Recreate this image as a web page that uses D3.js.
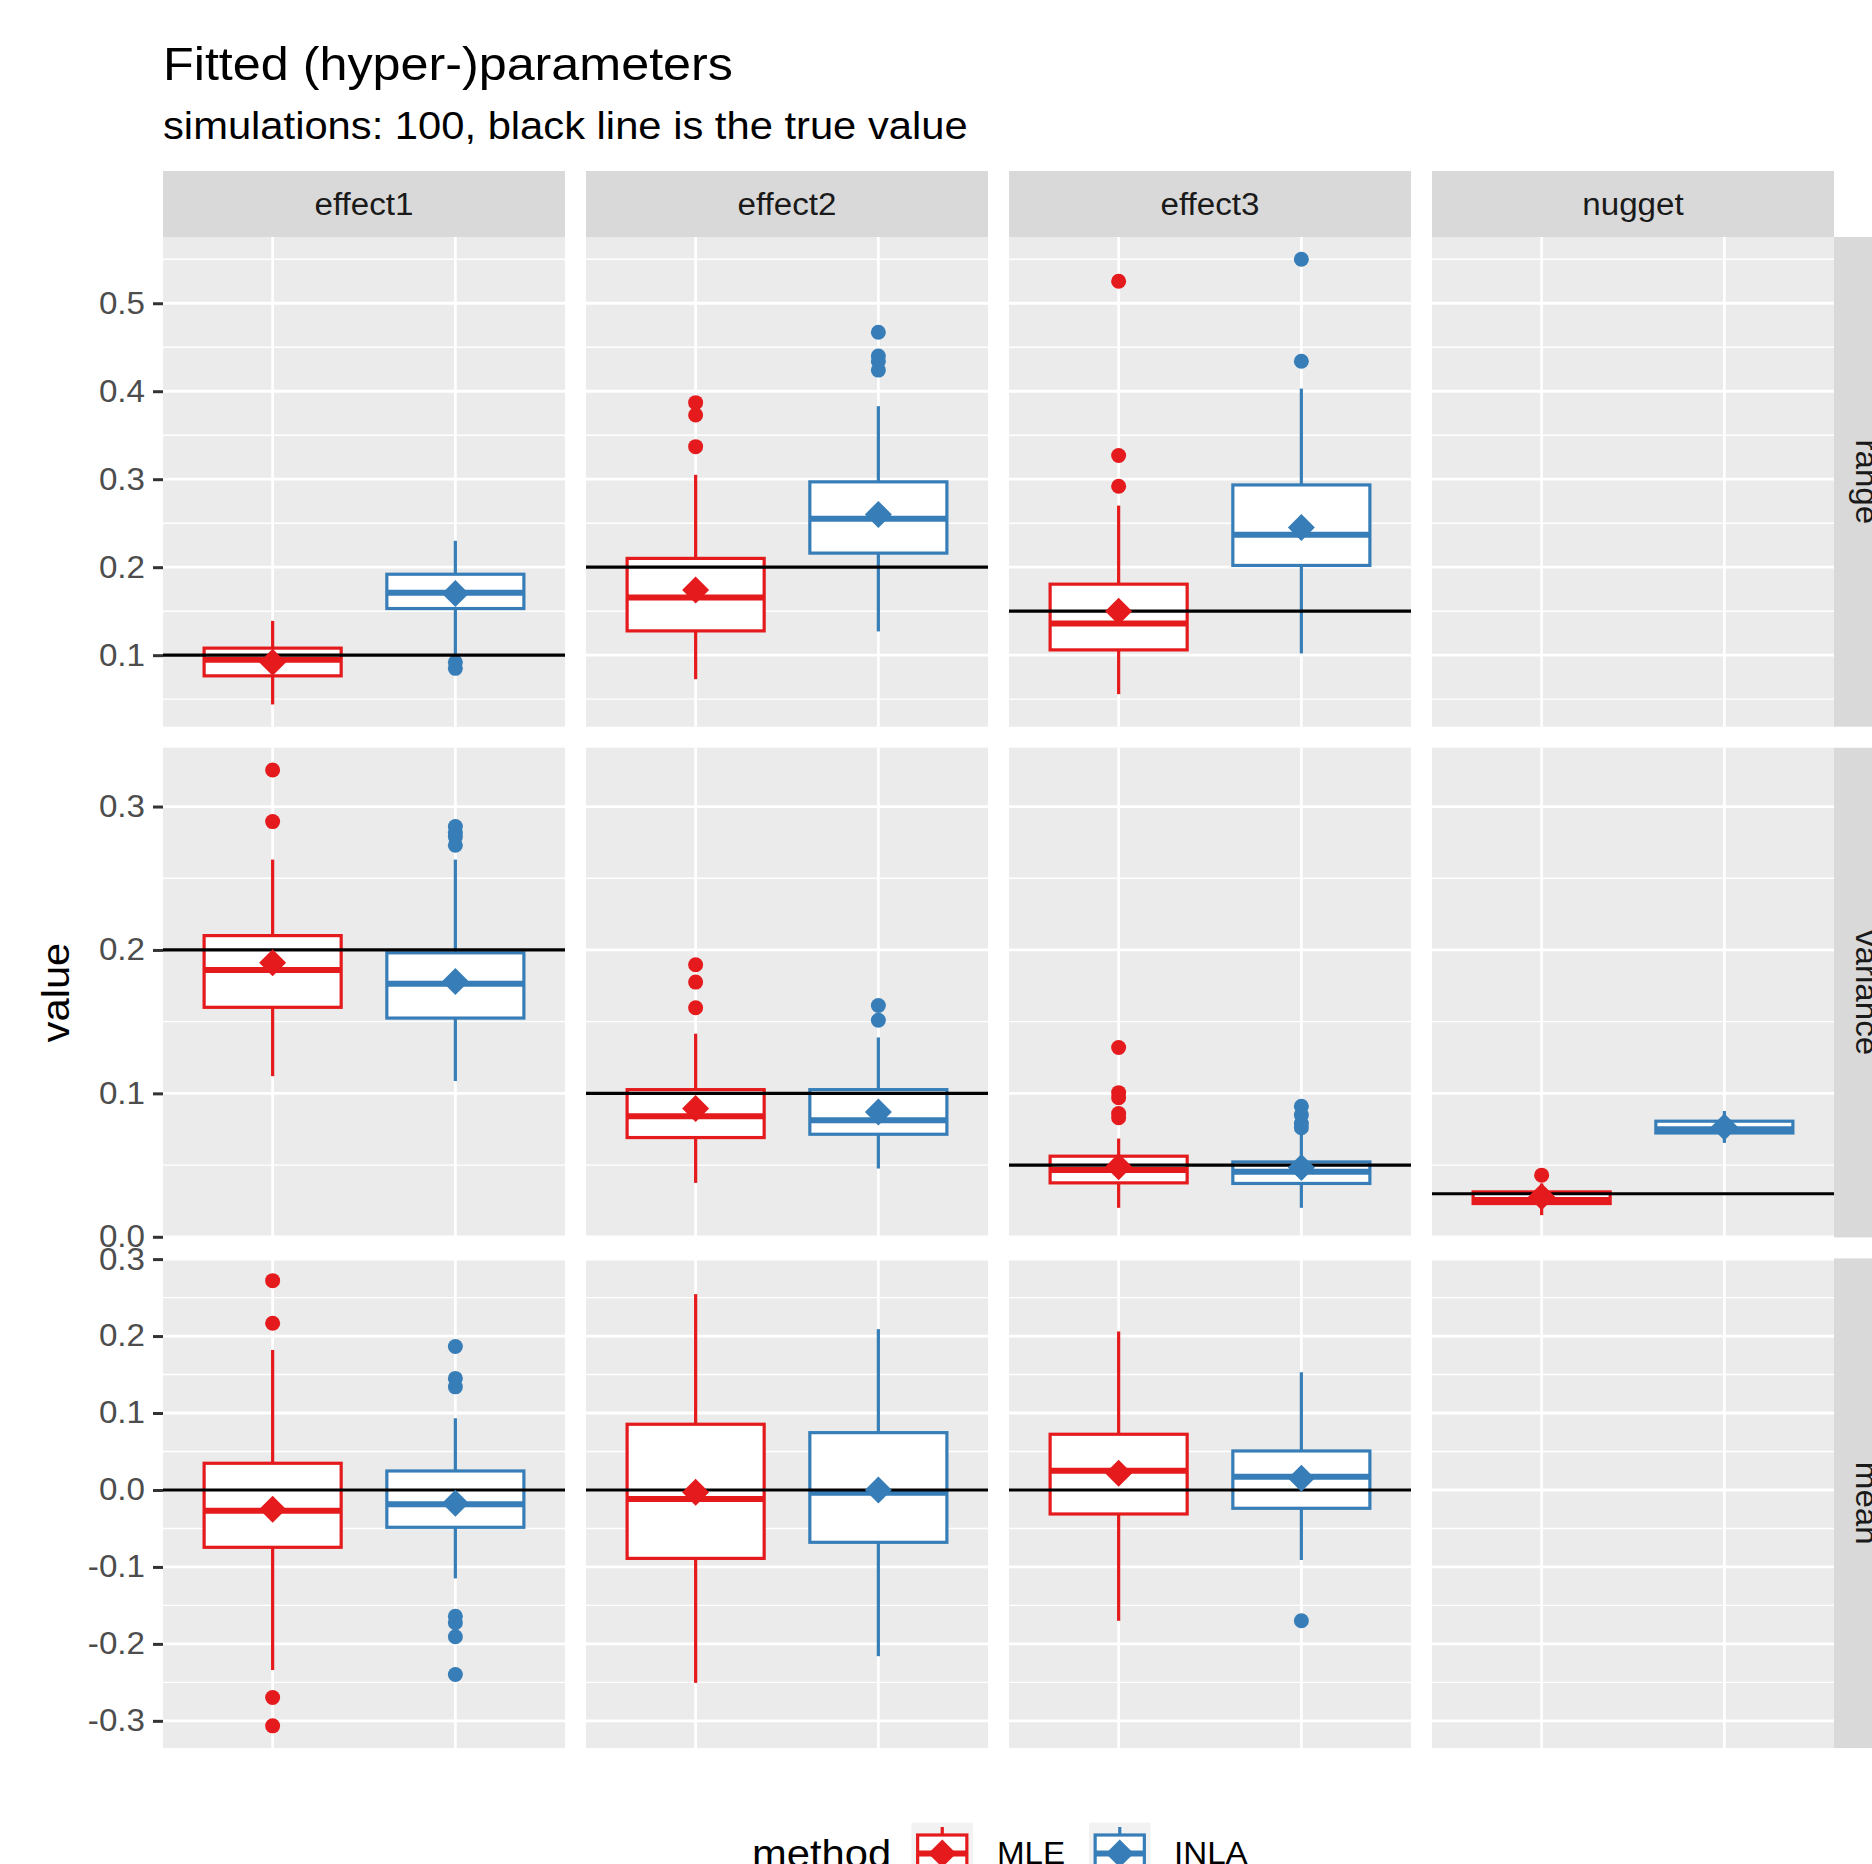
<!DOCTYPE html>
<html>
<head>
<meta charset="utf-8">
<script src="https://cdnjs.cloudflare.com/ajax/libs/d3/7.8.5/d3.min.js"></script>
<style>
  html, body { margin: 0; padding: 0; background: #ffffff; }
  svg { display: block; font-family: "Liberation Sans", Arial, sans-serif; }
</style>
</head>
<body>
<div id="chart"></div>
<script>
// ---------------- DATA ----------------
const facets = ["effect1", "effect2", "effect3", "nugget"];
const params = ["range", "variance", "mean"];
const methods = ["MLE", "INLA"];
const methodColors = ["#E41A1C", "#377EB8"];

// true values (black lines); null = no line
const trueRange = [0.1, 0.2, 0.15, null];
const trueVariance = [0.2, 0.1, 0.05, 0.03];
const trueMean = [0, 0, 0, null];

// box stats per facet: [whiskerLow, q1, median, q3, whiskerHigh, mean]
const rangeMLE = [
  [0.044, 0.0765, 0.0947, 0.108, 0.139, 0.092],
  [0.0727, 0.1276, 0.1655, 0.210, 0.305, 0.174],
  [0.0557, 0.106, 0.136, 0.1807, 0.270, 0.150],
  null
];
const rangeINLA = [
  [0.097, 0.153, 0.171, 0.192, 0.230, 0.170],
  [0.127, 0.216, 0.255, 0.297, 0.383, 0.260],
  [0.102, 0.202, 0.237, 0.2935, 0.403, 0.245],
  null
];
const varianceMLE = [
  [0.112, 0.160, 0.186, 0.210, 0.263, 0.191],
  [0.0376, 0.0692, 0.084, 0.1026, 0.1416, 0.0894],
  [0.0202, 0.0376, 0.0465, 0.0562, 0.0685, 0.0488],
  [0.0151, 0.0232, 0.0256, 0.0313, 0.0372, 0.0279]
];
const varianceINLA = [
  [0.1086, 0.1525, 0.1765, 0.198, 0.263, 0.178],
  [0.0476, 0.0715, 0.0813, 0.1026, 0.139, 0.087],
  [0.0202, 0.0372, 0.0453, 0.0522, 0.071, 0.0483],
  [0.0655, 0.0724, 0.075, 0.0806, 0.0877, 0.0766]
];
const meanMLE = [
  [-0.234, -0.0745, -0.0269, 0.0347, 0.182, -0.025],
  [-0.2506, -0.0889, -0.0117, 0.0854, 0.2545, -0.003],
  [-0.170, -0.0312, 0.0251, 0.0724, 0.206, 0.0217],
  null
];
const meanINLA = [
  [-0.1149, -0.0485, -0.0186, 0.0247, 0.0932, -0.0173],
  [-0.216, -0.068, -0.0035, 0.0745, 0.209, 0.0],
  [-0.091, -0.0238, 0.0173, 0.0507, 0.153, 0.0152],
  null
];

// outliers per facet
const rangeMLEOut = [[], [0.387, 0.373, 0.337], [0.525, 0.327, 0.292], []];
const rangeINLAOut = [[0.092, 0.085], [0.467, 0.440, 0.434, 0.424], [0.55, 0.434], []];
const varianceMLEOut = [[0.3255, 0.2895], [0.1897, 0.1776, 0.1597], [0.132, 0.1005, 0.097, 0.086, 0.083], [0.043]];
const varianceINLAOut = [[0.286, 0.282, 0.279, 0.273], [0.1613, 0.151], [0.091, 0.085, 0.079, 0.076], []];
const meanMLEOut = [[0.272, 0.2167, -0.2696, -0.3065], [], [], []];
const meanINLAOut = [[0.1864, 0.145, 0.134, -0.164, -0.1725, -0.1907, -0.2397], [], [-0.170], []];

// tick labels
const rangeTicks = [0.1, 0.2, 0.3, 0.4, 0.5];
const varianceTicks = [0.0, 0.1, 0.2, 0.3];
const meanTicks = [-0.3, -0.2, -0.1, 0.0, 0.1, 0.2, 0.3];

const titleText = "Fitted (hyper-)parameters";
const subtitleText = "simulations: 100, black line is the true value";
const yTitle = "value";
const legendTitle = "method";

// ---------------- LAYOUT ----------------
const W = 1872, H = 1864;
const panelLeft = 163, panelTop = 237;
const panelW = 402, panelH = 489.7, gapX = 21, gapY = 21;
const stripH = 66;
const SX = 1.07; // horizontal glyph widening to match the reference font rendering

const rows = [
  { name: "range", mle: rangeMLE, inla: rangeINLA, mleOut: rangeMLEOut, inlaOut: rangeINLAOut, truth: trueRange, ticks: rangeTicks },
  { name: "variance", mle: varianceMLE, inla: varianceINLA, mleOut: varianceMLEOut, inlaOut: varianceINLAOut, truth: trueVariance, ticks: varianceTicks },
  { name: "mean", mle: meanMLE, inla: meanINLA, mleOut: meanMLEOut, inlaOut: meanINLAOut, truth: trueMean, ticks: meanTicks }
];

const svg = d3.select("#chart").append("svg")
  .attr("width", W).attr("height", H)
  .attr("viewBox", `0 0 ${W} ${H}`);

svg.append("rect").attr("width", W).attr("height", H).attr("fill", "#ffffff");

// text helper: places text at (x,y) with optional rotation, widened by SX along its direction
function addText(parent, x, y, str, size, color, opts = {}) {
  const rot = opts.rotate || 0;
  const t = parent.append("text")
    .attr("transform", `translate(${x},${y}) rotate(${rot}) scale(${SX},1)`)
    .attr("font-size", size).attr("fill", color)
    .attr("text-anchor", opts.anchor || "start");
  if (opts.central) t.attr("dominant-baseline", "central");
  t.text(str);
  return t;
}

// Titles
addText(svg, 163, 80, titleText, 47, "#000");
addText(svg, 163, 139, subtitleText, 39, "#000");

// y axis title
addText(svg, 69, panelTop + (3 * panelH + 2 * gapY) / 2, yTitle, 39, "#000", { rotate: -90, anchor: "middle" });

const x = d3.scalePoint().domain(methods).range([0, panelW]).padding(0.6);
const step = x.step();
const boxW = 0.75 * step;

function diamond(g, cx, cy, color, r) {
  g.append("path")
    .attr("d", `M${cx},${cy - r}L${cx + r},${cy}L${cx},${cy + r}L${cx - r},${cy}Z`)
    .attr("fill", color);
}

function drawBox(g, cx, s, y, color) {
  const [lo, q1, med, q3, hi, mn] = s;
  g.append("line").attr("x1", cx).attr("x2", cx).attr("y1", y(q3)).attr("y2", y(hi))
    .attr("stroke", color).attr("stroke-width", 3.2);
  g.append("line").attr("x1", cx).attr("x2", cx).attr("y1", y(q1)).attr("y2", y(lo))
    .attr("stroke", color).attr("stroke-width", 3.2);
  g.append("rect").attr("x", cx - boxW / 2).attr("width", boxW)
    .attr("y", y(q3)).attr("height", y(q1) - y(q3))
    .attr("fill", "#ffffff").attr("stroke", color).attr("stroke-width", 3.2);
  g.append("line").attr("x1", cx - boxW / 2).attr("x2", cx + boxW / 2)
    .attr("y1", y(med)).attr("y2", y(med))
    .attr("stroke", color).attr("stroke-width", 6);
}

rows.forEach((row, ri) => {
  const vals = [];
  row.mle.concat(row.inla).forEach(s => { if (s) vals.push(...s); });
  row.mleOut.concat(row.inlaOut).forEach(o => vals.push(...o));
  row.truth.forEach(t => { if (t !== null) vals.push(t); });
  const [mn, mx] = d3.extent(vals);
  const ext = (mx - mn) * 0.05;
  const y = d3.scaleLinear().domain([mn - ext, mx + ext]).range([panelH, 0]);
  const py = panelTop + ri * (panelH + gapY);

  const tk = row.ticks;
  const d = tk[1] - tk[0];
  const minors = [];
  for (let v = tk[0] - d / 2; v <= tk[tk.length - 1] + d / 2 + 1e-9; v += d) {
    if (v >= y.domain()[0] && v <= y.domain()[1]) minors.push(v);
  }

  // y axis (left)
  const axisG = svg.append("g").attr("transform", `translate(${panelLeft},${py})`);
  const axis = d3.axisLeft(y).tickValues(tk).tickFormat(d3.format(".1f")).tickSize(10).tickPadding(8);
  axisG.call(axis);
  axisG.select(".domain").remove();
  axisG.selectAll(".tick line").attr("stroke", "#333333").attr("stroke-width", 3);
  axisG.selectAll(".tick text").attr("fill", "#4D4D4D").attr("font-size", 31)
    .attr("font-family", "Liberation Sans, Arial, sans-serif")
    .attr("x", -18 / SX)
    .attr("transform", `scale(${SX},1)`)
    .text(v => d3.format(".1f")(v).replace("\u2212", "-"));

  facets.forEach((f, fi) => {
    const px = panelLeft + fi * (panelW + gapX);
    const g = svg.append("g").attr("transform", `translate(${px},${py})`);
    g.append("rect").attr("width", panelW).attr("height", panelH).attr("fill", "#EBEBEB");
    minors.forEach(v => {
      g.append("line").attr("x1", 0).attr("x2", panelW).attr("y1", y(v)).attr("y2", y(v))
        .attr("stroke", "#ffffff").attr("stroke-width", 1.4);
    });
    tk.forEach(v => {
      g.append("line").attr("x1", 0).attr("x2", panelW).attr("y1", y(v)).attr("y2", y(v))
        .attr("stroke", "#ffffff").attr("stroke-width", 2.8);
    });
    methods.forEach(m => {
      g.append("line").attr("x1", x(m)).attr("x2", x(m)).attr("y1", 0).attr("y2", panelH)
        .attr("stroke", "#ffffff").attr("stroke-width", 2.8);
    });

    const stats = [row.mle[fi], row.inla[fi]];
    const outs = [row.mleOut[fi], row.inlaOut[fi]];
    methods.forEach((m, mi) => {
      const s = stats[mi];
      if (!s) return;
      const cx = x(m);
      drawBox(g, cx, s, y, methodColors[mi]);
      outs[mi].forEach(o => {
        g.append("circle").attr("cx", cx).attr("cy", y(o)).attr("r", 7.5).attr("fill", methodColors[mi]);
      });
    });
    if (row.truth[fi] !== null) {
      g.append("line").attr("x1", 0).attr("x2", panelW)
        .attr("y1", y(row.truth[fi])).attr("y2", y(row.truth[fi]))
        .attr("stroke", "#000000").attr("stroke-width", 3.2);
    }
    methods.forEach((m, mi) => {
      const s = stats[mi];
      if (!s) return;
      diamond(g, x(m), y(s[5]), methodColors[mi], 13.5);
    });

    if (ri === 0) {
      svg.append("rect").attr("x", px).attr("y", panelTop - stripH).attr("width", panelW).attr("height", stripH)
        .attr("fill", "#D9D9D9");
      addText(svg, px + panelW / 2, panelTop - stripH / 2, f, 31, "#1A1A1A", { anchor: "middle", central: true });
    }
  });

  // right strip
  const sx = panelLeft + 4 * panelW + 3 * gapX;
  svg.append("rect").attr("x", sx).attr("y", py).attr("width", stripH).attr("height", panelH).attr("fill", "#D9D9D9");
  addText(svg, sx + stripH / 2, py + panelH / 2, row.name, 31, "#1A1A1A", { rotate: 90, anchor: "middle", central: true });
});

// ---------------- LEGEND ----------------
const legY = 1822.7, keySize = 61.5;
addText(svg, 752, legY + keySize / 2, legendTitle, 39, "#000", { central: true });
const keyXs = [911.5, 1089];
const labXs = [997, 1174];
methods.forEach((m, mi) => {
  const kx = keyXs[mi];
  const kg = svg.append("g").attr("transform", `translate(${kx},${legY})`);
  kg.append("rect").attr("width", keySize).attr("height", keySize).attr("fill", "#F2F2F2");
  const c = methodColors[mi];
  const ks = d3.scaleLinear().domain([0, 1]).range([0, keySize]);
  kg.append("line").attr("x1", ks(0.5)).attr("x2", ks(0.5)).attr("y1", ks(0.07)).attr("y2", ks(0.2))
    .attr("stroke", c).attr("stroke-width", 3.2);
  kg.append("line").attr("x1", ks(0.5)).attr("x2", ks(0.5)).attr("y1", ks(0.8)).attr("y2", ks(0.93))
    .attr("stroke", c).attr("stroke-width", 3.2);
  kg.append("rect").attr("x", ks(0.1)).attr("y", ks(0.2)).attr("width", ks(0.8)).attr("height", ks(0.6))
    .attr("fill", "#fff").attr("stroke", c).attr("stroke-width", 3.2);
  kg.append("line").attr("x1", ks(0.1)).attr("x2", ks(0.9)).attr("y1", ks(0.5)).attr("y2", ks(0.5))
    .attr("stroke", c).attr("stroke-width", 6);
  diamond(kg, ks(0.5), ks(0.5), c, 14);
  addText(svg, labXs[mi], legY + keySize / 2, m, 31, "#000", { central: true });
});
</script>
</body>
</html>
